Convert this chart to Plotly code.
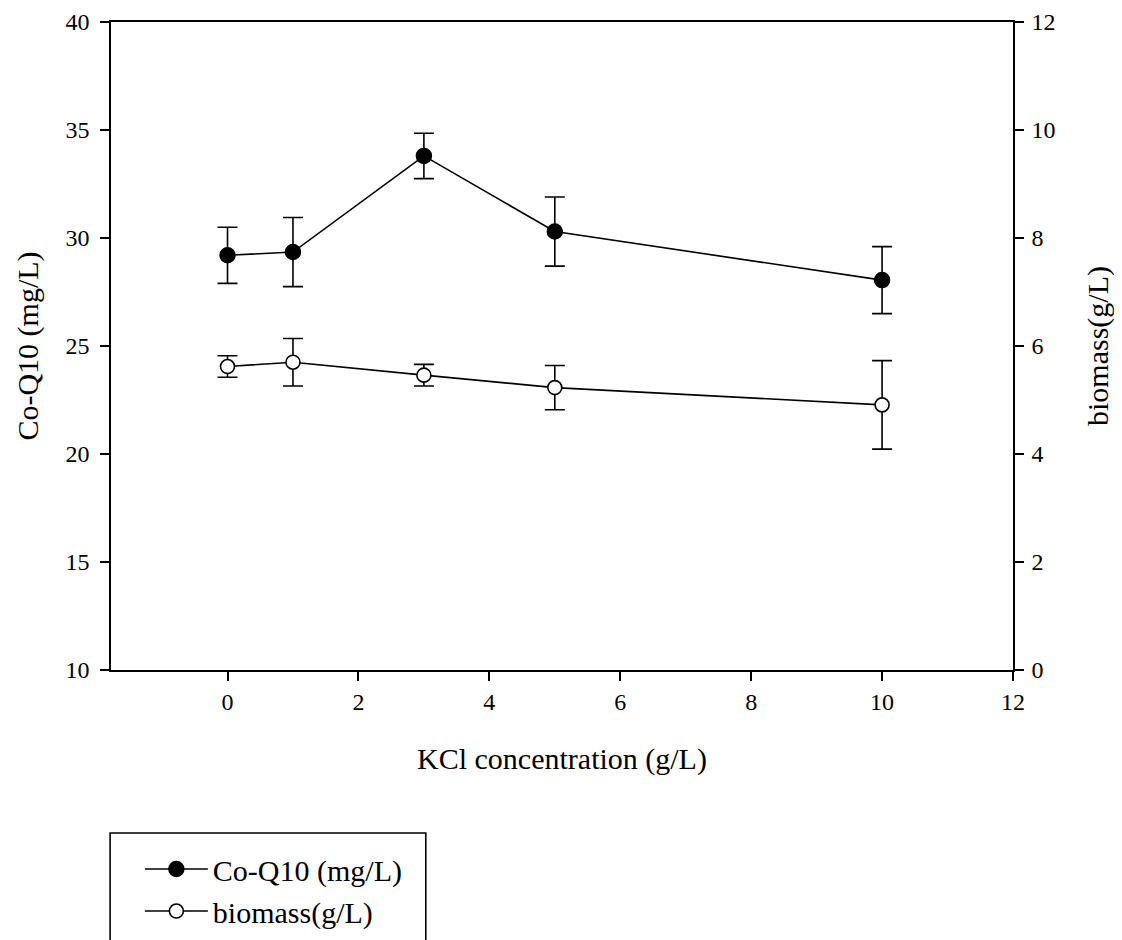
import plotly.graph_objects as go

kcl = [0, 1, 3, 5, 10]
coq10 = [29.2, 29.35, 33.8, 30.3, 28.05]
coq10_err = [1.3, 1.6, 1.05, 1.6, 1.55]
biomass = [5.62, 5.70, 5.46, 5.23, 4.91]
biomass_err = [0.2, 0.44, 0.2, 0.41, 0.82]

FONT = "Liberation Serif, Times New Roman, serif"
TICK = 24
TITLE = 30

fig = go.Figure()
fig.add_trace(go.Scatter(
    x=kcl, y=coq10, name="Co-Q10 (mg/L)", mode="lines+markers",
    line=dict(color="black", width=1.6),
    marker=dict(symbol="circle", size=15, color="black", line=dict(color="black", width=1.5)),
    error_y=dict(type="data", array=coq10_err, visible=True, color="black", thickness=1.6, width=10),
))
fig.add_trace(go.Scatter(
    x=kcl, y=biomass, name="biomass(g/L)", mode="lines+markers", yaxis="y2",
    line=dict(color="black", width=1.6),
    marker=dict(symbol="circle", size=14, color="white", line=dict(color="black", width=1.6)),
    error_y=dict(type="data", array=biomass_err, visible=True, color="black", thickness=1.6, width=10),
))

axis_common = dict(showgrid=False, zeroline=False, showline=True, linecolor="black", linewidth=1.6,
                   ticks="outside", ticklen=9, tickwidth=1.5, tickcolor="black", automargin=False,
                   tickfont=dict(family=FONT, size=TICK, color="black"))

fig.update_layout(
    width=1122, height=940,
    margin=dict(l=103, r=117, t=14, b=278, autoexpand=False),
    plot_bgcolor="white", paper_bgcolor="white",
    font=dict(family=FONT, color="black"),
    xaxis=dict(range=[-1.78, 12], tick0=0, dtick=2, mirror=True,
               title=dict(text="KCl concentration (g/L)", font=dict(family=FONT, size=TITLE), standoff=34),
               **axis_common),
    yaxis=dict(range=[10, 40], tick0=10, dtick=5, ticklabelstandoff=6,
               title=dict(text="Co-Q10 (mg/L)", font=dict(family=FONT, size=TITLE), standoff=18),
               **axis_common),
    yaxis2=dict(range=[0, 12], tick0=0, dtick=2, overlaying="y", side="right", ticklabelstandoff=3,
                title=dict(text="biomass(g/L)", font=dict(family=FONT, size=TITLE), standoff=32),
                **axis_common),
    showlegend=True,
    legend=dict(x=0.032, y=-0.267, xanchor="left", yanchor="top", itemwidth=63,
                font=dict(family=FONT, size=TITLE, color="black"),
                bgcolor="rgba(0,0,0,0)", borderwidth=0, tracegroupgap=0),
    shapes=[dict(type="rect", xref="paper", yref="paper",
                 x0=-0.001, x1=0.349, y0=-0.2515, y1=-0.44,
                 line=dict(color="black", width=1.6), fillcolor="rgba(0,0,0,0)")],
)

fig.write_html("out.html")
